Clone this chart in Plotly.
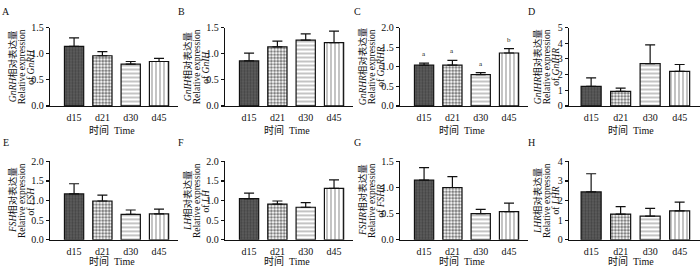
import plotly.graph_objects as go

categories = ["d15", "d21", "d30", "d45"]

gnrh_mean = [1.14, 0.96, 0.80, 0.85]
gnrh_err = [0.16, 0.08, 0.05, 0.06]
gnih_mean = [0.86, 1.13, 1.26, 1.21]
gnih_err = [0.15, 0.11, 0.12, 0.22]
gnrhr_mean = [1.04, 1.04, 0.80, 1.35]
gnrhr_err = [0.05, 0.12, 0.05, 0.11]
gnrhr_letters = ["a", "a", "a", "b"]
gnihr_mean = [1.25, 0.93, 2.70, 2.20]
gnihr_err = [0.54, 0.20, 1.19, 0.44]
fsh_mean = [1.17, 0.99, 0.65, 0.66]
fsh_err = [0.26, 0.15, 0.11, 0.12]
lh_mean = [1.05, 0.91, 0.83, 1.31]
lh_err = [0.14, 0.08, 0.12, 0.22]
fshr_mean = [1.14, 1.00, 0.50, 0.54]
fshr_err = [0.24, 0.21, 0.08, 0.16]
lhr_mean = [2.44, 1.31, 1.21, 1.47]
lhr_err = [0.93, 0.38, 0.39, 0.45]

panel_letters = ["A", "B", "C", "D", "E", "F", "G", "H"]
genes = ["GnRH", "GnIH", "GnRHR", "GnIHR", "FSH", "LH", "FSHR", "LHR"]
y_max = [1.5, 1.5, 2.0, 5, 2.0, 2.0, 1.5, 4]
y_dtick = [0.5, 0.5, 0.5, 1, 0.5, 0.5, 0.5, 1]
y_fmt = [".1f", ".1f", ".1f", "d", ".1f", ".1f", ".1f", "d"]
means = [gnrh_mean, gnih_mean, gnrhr_mean, gnihr_mean, fsh_mean, lh_mean, fshr_mean, lhr_mean]
errs = [gnrh_err, gnih_err, gnrhr_err, gnihr_err, fsh_err, lh_err, fshr_err, lhr_err]

W, H = 700, 274
SERIF = "'Liberation Serif', 'Times New Roman', 'Noto Sans CJK SC', serif"

# layout (pixels)
col_origin = [0, 175, 350, 525]
letter_x = [6, 181, 357, 531]
axis_x0 = [50, 225, 400, 569]
axis_x1 = [178, 353, 528, 700]
x_ranges = [[-0.85, 3.67], [-0.85, 3.67], [-0.85, 3.67], [-0.75, 3.69]]
row_y = [(22.5, 104.5), (162.5, 244.5)]
row_origin = [0, 137]

patterns = [
    dict(shape=".", fgcolor="#2a2a2a", bgcolor="#5e5e5e", size=3, solidity=0.45),
    dict(shape=".", fgcolor="#000000", bgcolor="#ffffff", size=3.2, solidity=0.6),
    dict(shape="-", fgcolor="#2a2a2a", bgcolor="#ffffff", size=4, solidity=0.28),
    dict(shape="|", fgcolor="#2a2a2a", bgcolor="#ffffff", size=4, solidity=0.28),
]

fig = go.Figure()
annotations = []
layout = {}

for i in range(8):
    r, c = divmod(i, 4)
    n = i + 1
    xa = "x" if n == 1 else f"x{n}"
    ya = "y" if n == 1 else f"y{n}"
    ytop, ybot = row_y[r]
    for k, cat in enumerate(categories):
        fig.add_trace(go.Bar(
            x=[cat], y=[means[i][k]], xaxis=xa, yaxis=ya, width=0.68,
            marker=dict(color=patterns[k]["bgcolor"], line=dict(color="#111", width=1.2),
                        pattern=patterns[k]),
            error_y=dict(type="data", symmetric=False, array=[errs[i][k]], arrayminus=[0],
                         color="#111", thickness=1.2, width=5),
            showlegend=False, hoverinfo="skip",
        ))
    layout[f"xaxis{n}" if n > 1 else "xaxis"] = dict(
        domain=[axis_x0[c] / W, axis_x1[c] / W], anchor=ya, type="category",
        categoryorder="array", categoryarray=categories, range=x_ranges[c],
        showline=True, linecolor="#111", linewidth=1.3, ticks="", showgrid=False,
        zeroline=False, tickfont=dict(family=SERIF, size=10, color="#111"),
        ticklabelstandoff=2,
    )
    layout[f"yaxis{n}" if n > 1 else "yaxis"] = dict(
        domain=[1 - ybot / H, 1 - ytop / H], anchor=xa, range=[0, y_max[i]],
        dtick=y_dtick[i], tick0=0, tickformat=y_fmt[i],
        showline=True, linecolor="#111", linewidth=1.3, ticks="outside", ticklen=3,
        tickwidth=1.2, tickcolor="#111", showgrid=False, zeroline=False,
        tickfont=dict(family=SERIF, size=10, color="#111"),
    )
    # panel letter
    annotations.append(dict(
        text=panel_letters[i], xref="paper", yref="paper",
        x=letter_x[c] / W, y=1 - (row_origin[r] + 6) / H, showarrow=False,
        font=dict(family=SERIF, size=10, color="#111"), xanchor="center", yanchor="middle",
    ))
    # y titles (three lines)
    ymid = 1 - ((ytop + ybot) / 2) / H
    g = genes[i]
    lines = [f"<i>{g}</i>相对表达量", "Relative expression", f"of <i>{g}</i>"]
    for j, (txt, off) in enumerate(zip(lines, [12.5, 21.5, 31])):
        annotations.append(dict(
            text=txt, xref="paper", yref="paper", x=(col_origin[c] + off) / W, y=ymid,
            textangle=-90, showarrow=False, xanchor="center", yanchor="middle",
            font=dict(family=SERIF, size=9.5, color="#111"),
        ))
    # x title
    annotations.append(dict(
        text="时间  Time", xref=xa, yref="paper", x=1.35,
        y=1 - (row_origin[r] + 130) / H, showarrow=False, xanchor="center",
        yanchor="middle", font=dict(family=SERIF, size=10, color="#111"),
    ))
    if i == 2:
        for k, cat in enumerate(categories):
            annotations.append(dict(
                text=gnrhr_letters[k], xref=xa, yref=ya, x=cat,
                y=means[i][k] + errs[i][k], yshift=3, showarrow=False,
                xanchor="center", yanchor="bottom",
                font=dict(family=SERIF, size=7, color="#111"),
            ))

fig.update_layout(
    width=W, height=H, margin=dict(l=0, r=0, t=0, b=0),
    paper_bgcolor="white", plot_bgcolor="white", barmode="overlay",
    annotations=annotations, **layout,
)

fig.write_html(
    "out.html",
    config={"displayModeBar": False, "staticPlot": True},
    post_script="document.body.style.margin='0';document.body.style.overflow='hidden';",
)
